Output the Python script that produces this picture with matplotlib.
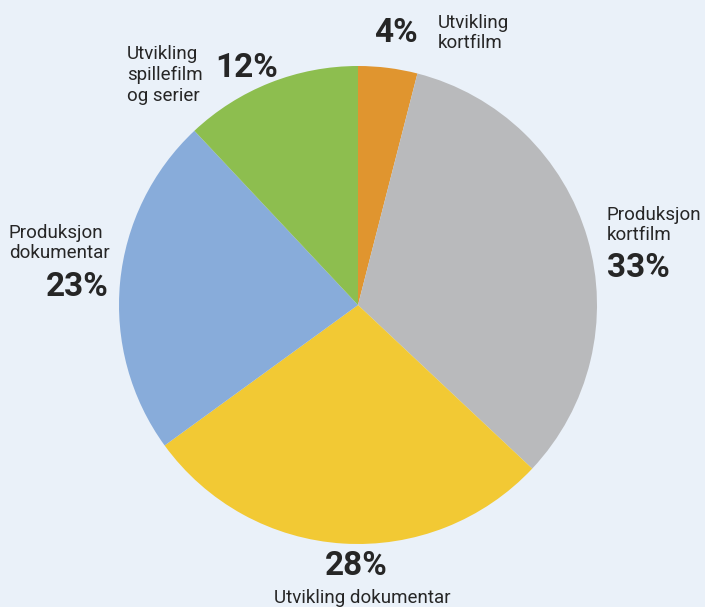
import matplotlib.pyplot as plt

# andeler, med klokka fra toppen
labels = ["Utvikling\nkortfilm", "Produksjon\nkortfilm", "Utvikling dokumentar",
          "Produksjon\ndokumentar", "Utvikling\nspillefilm\nog serier"]
values = [4, 33, 28, 23, 12]
colors = ["#E0952F", "#B9BABC", "#F2C934", "#88ACDA", "#8DBE4F"]

bg = "#EAF1F9"
txt = "#262626"
plt.rcParams['font.family'] = ['Roboto', 'DejaVu Sans']

fig = plt.figure(figsize=(7.05, 6.07), dpi=100, facecolor=bg)
ax = fig.add_axes([0, 0, 1, 1])
ax.set_facecolor(bg)

ax.pie(values, colors=colors, startangle=90, counterclock=False,
       center=(358, 302), radius=239, frame=True,
       wedgeprops=dict(linewidth=0))
ax.set_xlim(0, 705)
ax.set_ylim(0, 607)
ax.set_aspect('equal')
ax.axis('off')

H = 607
pct = dict(fontsize=24, fontweight='bold', color=txt, va='center')
lab = dict(fontsize=13.5, color=txt, linespacing=1.2)

# 4%
ax.text(396, H - 33, f"{values[0]}%", ha='center', **pct)
ax.text(438, H - 33, labels[0], ha='left', va='center', **lab)
# 33%
ax.text(607, H - 225, labels[1], ha='left', va='center', **lab)
ax.text(607, H - 268, f"{values[1]}%", ha='left', **pct)
# 28%
ax.text(356, H - 566, f"{values[2]}%", ha='center', **pct)
ax.text(362, H - 598, labels[2], ha='center', va='center', **lab)
# 23%
ax.text(9, H - 243, labels[3], ha='left', va='center', **lab)
ax.text(109, H - 287, f"{values[3]}%", ha='right', **pct)
# 12%
ax.text(127, H - 75, labels[4], ha='left', va='center', **lab)
ax.text(215, H - 68, f"{values[4]}%", ha='left', **pct)

fig.savefig("out.png", dpi=100, facecolor=bg)
